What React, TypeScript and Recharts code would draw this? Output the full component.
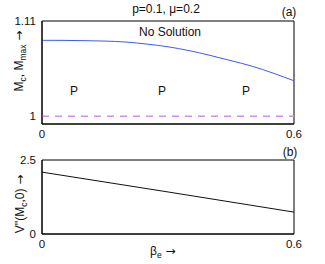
import React from "react";
import { LineChart, Line, XAxis, YAxis, ReferenceArea } from "recharts";

const betaTop = [0, 0.05, 0.1, 0.15, 0.2, 0.25, 0.3, 0.35, 0.4, 0.45, 0.5, 0.55, 0.6];
const mcValues = [1.0877, 1.0876, 1.0873, 1.0868, 1.0857, 1.0833, 1.0802, 1.0758, 1.0703, 1.0642, 1.0578, 1.0498, 1.0409];
const mmaxValues = [1, 1, 1, 1, 1, 1, 1, 1, 1, 1, 1, 1, 1];
const betaBottom = [0, 0.3, 0.6];
const vppValues = [2.09, 1.42, 0.74];
const xTicks = [0, 0.6];
const yTicksTop = [1, 1.11];
const yTicksBottom = [0, 2.5];

const topData = betaTop.map((b, i) => ({ b, mc: mcValues[i], mmax: mmaxValues[i] }));
const bottomData = betaBottom.map((b, i) => ({ b, v: vppValues[i] }));

const FONT = "'Liberation Sans', Arial, Helvetica, sans-serif";
const ARROW = "'DejaVu Sans', sans-serif";
const tickStyle = { fontSize: 11.5, fill: "#111", fontFamily: FONT };

export default function App() {
  return (
    <div style={{ position: "absolute", left: 0, top: 0, width: 325, height: 264, background: "#fff", fontFamily: FONT }}>
      <div style={{ position: "absolute", left: 0, top: 0 }}>
        <LineChart width={325} height={140} data={topData} margin={{ top: 21, right: 31, left: 0, bottom: 0 }}>
          <XAxis dataKey="b" type="number" domain={[0, 0.6]} ticks={xTicks} tickFormatter={(v) => String(v)}
            tickLine={false} tickSize={5} tickMargin={1} height={16} axisLine={{ stroke: "#000" }} tick={tickStyle} interval={0} />
          <YAxis type="number" domain={[0.991, 1.11]} ticks={yTicksTop} tickFormatter={(v) => String(v)}
            tickLine={false} tickSize={5} tickMargin={1} width={42} axisLine={{ stroke: "#000" }} tick={tickStyle} interval={0} allowDataOverflow />
          <ReferenceArea x1={0} x2={0.6} y1={0.991} y2={1.11} fill="none" stroke="#000" strokeWidth={1} ifOverflow="visible" />
          <Line dataKey="mmax" stroke="#cc8ef0" strokeWidth={1.5} strokeDasharray="7 6" dot={false} isAnimationActive={false} />
          <Line type="monotone" dataKey="mc" stroke="#3a5cf5" strokeWidth={1} dot={false} isAnimationActive={false} />
        </LineChart>
      </div>
      <div style={{ position: "absolute", left: 0, top: 140 }}>
        <LineChart width={325} height={124} data={bottomData} margin={{ top: 20, right: 31, left: 0, bottom: 14 }}>
          <XAxis dataKey="b" type="number" domain={[0, 0.6]} ticks={xTicks} tickFormatter={(v) => String(v)}
            tickLine={false} tickSize={5} tickMargin={1} height={16} axisLine={{ stroke: "#000" }} tick={tickStyle} interval={0} />
          <YAxis type="number" domain={[0, 2.5]} ticks={yTicksBottom} tickFormatter={(v) => String(v)}
            tickLine={false} tickSize={5} tickMargin={1} width={42} axisLine={{ stroke: "#000" }} tick={tickStyle} interval={0} />
          <ReferenceArea x1={0} x2={0.6} y1={0} y2={2.5} fill="none" stroke="#000" strokeWidth={1} ifOverflow="visible" />
          <Line dataKey="v" stroke="#111" strokeWidth={1} dot={false} isAnimationActive={false} />
        </LineChart>
      </div>
      <svg width={325} height={264} style={{ position: "absolute", left: 0, top: 0, pointerEvents: "none" }} fontFamily={FONT} fill="#111">
        <text x={166} y={13} fontSize={12} textAnchor="middle">p=0.1, μ=0.2</text>
        <text x={289} y={16} fontSize={12} textAnchor="middle">(a)</text>
        <text x={170} y={36} fontSize={12} textAnchor="middle">No Solution</text>
        <text x={74} y={95} fontSize={12} textAnchor="middle">P</text>
        <text x={162} y={95} fontSize={12} textAnchor="middle">P</text>
        <text x={246} y={95} fontSize={12} textAnchor="middle">P</text>
        <text x={290} y={156} fontSize={12} textAnchor="middle">(b)</text>
        <text x={150} y={255} fontSize={12}>
          β<tspan fontSize={8.5} dy={3}>e</tspan><tspan dy={-3} fontFamily={ARROW}> →</tspan>
        </text>
        <text transform="translate(23,61) rotate(-90)" fontSize={12} textAnchor="middle">
          M<tspan fontSize={8.5} dy={3}>c</tspan><tspan dy={-3}>, M</tspan><tspan fontSize={8.5} dy={3}>max</tspan><tspan dy={-3} fontFamily={ARROW}> →</tspan>
        </text>
        <text transform="translate(24,204) rotate(-90)" fontSize={12} textAnchor="middle">
          V''(M<tspan fontSize={8.5} dy={3}>c</tspan><tspan dy={-3}>,0)</tspan><tspan fontFamily={ARROW}> →</tspan>
        </text>
      </svg>
    </div>
  );
}
